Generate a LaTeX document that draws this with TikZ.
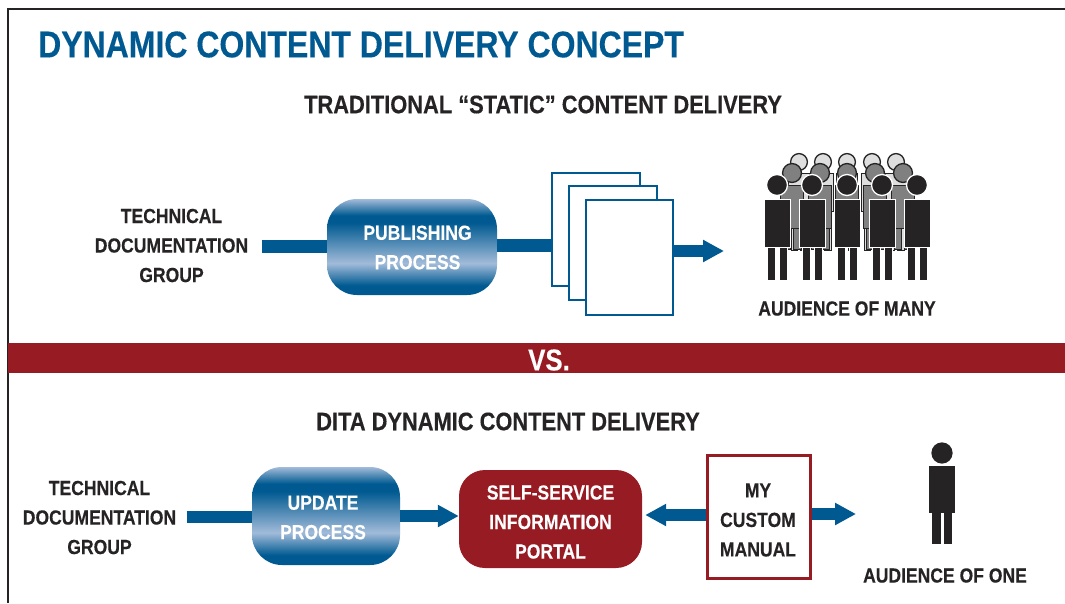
\documentclass[tikz,border=0pt]{standalone}
\usepackage{fontspec}
\setmainfont{Liberation Sans}[FakeStretch=0.86,BoldFeatures={FakeBold=0.25}]
\usetikzlibrary{arrows.meta,calc}
\definecolor{dblue}{HTML}{005A91}
\definecolor{lblue}{HTML}{A2BBD9}
\definecolor{dred}{HTML}{971B22}
\definecolor{ink}{HTML}{262324}
\pgfdeclareverticalshading{pill}{100bp}{color(0bp)=(dblue); color(30bp)=(dblue); color(41.5bp)=(lblue); color(62.5bp)=(dblue); color(66.5bp)=(dblue); color(75bp)=(lblue); color(100bp)=(lblue)}
\tikzset{
  x=1pt,y=-1pt,
  lab/.style={font=\bfseries\fontsize{20.4}{29.5}\selectfont,text=ink,align=center,inner sep=0pt},
  head/.style={font=\bfseries\fontsize{25.4}{29}\selectfont,text=ink,inner sep=0pt},
  gradbox/.style={shading=pill,rounded corners=30pt,minimum width=#1,inner sep=0pt},
  gradtext/.style={inner sep=0pt,text=white,align=center,font=\bfseries\fontsize{20.4}{29.5}\selectfont},
  sheet/.style={draw=dblue,line width=2.6pt,fill=white,inner sep=0pt},
  flow/.style={draw=dblue,line width=12pt},
  flowtip/.style={flow,-{Triangle[length=21pt,width=21pt]}},
}
% x, y of head centre, scale, fill, outline, end of the legs
\newcommand{\personfig}[6]{%
  \begin{scope}[shift={(#1,#2)},scale=#3]
    \draw[draw=#5,line width=0.8pt,fill=#4] (-10,60) rectangle (-2,#6);
    \draw[draw=#5,line width=0.8pt,fill=#4] (2,60) rectangle (10,#6);
    \draw[draw=#5,line width=0.8pt,fill=#4] (-13,14) rectangle (13,62);
    \draw[draw=#5,line width=1.3pt,fill=#4] (0,0) circle (10.5);
  \end{scope}}
\begin{document}
\begin{tikzpicture}
\useasboundingbox (0,0) rectangle (1065,603);
\fill[white] (0,0) rectangle (1065,603);
\draw[draw=ink,line width=1.6pt] (1065,9) -- (8,9) -- (8,603);
\fill[dred] (8,343) rectangle (1065,373);

\node[anchor=west,inner sep=0pt,text=dblue,font=\bfseries\fontsize{37.2}{40}\selectfont] (title) at (38,44.5) {DYNAMIC CONTENT DELIVERY CONCEPT};
\node[head] (h1) at (543,104.5) {TRADITIONAL “STATIC” CONTENT DELIVERY};
\node[text=white,inner sep=0pt,font=\bfseries\fontsize{30}{32}\selectfont] (vs) at (549,360) {VS.};
\node[head] (h2) at (508,421.5) {DITA DYNAMIC CONTENT DELIVERY};

% top row
\node[lab,minimum width=180pt] (tdg1) at (171.5,245.5) {TECHNICAL\\DOCUMENTATION\\GROUP};
\node[gradbox=170pt,minimum height=96pt] (pub) at (412,247) {};
\node[gradtext] (pubt) at (417.5,247.5) {PUBLISHING\\PROCESS};
\node[sheet,minimum width=88pt,minimum height=113pt] (d1) at (596,229.5) {};
\node[sheet,minimum width=88pt,minimum height=114pt] (d2) at (613,243) {};
\node[sheet,minimum width=87pt,minimum height=115pt] (d3) at (629.5,257.5) {};
\coordinate (t3) at (724,251);
\draw[flow,line width=13pt] (tdg1.east |- 0,246) -- (pub.west |- 0,246);
\draw[flow,line width=13pt] (pub.east |- 0,245) -- (d1.west |- 0,245);
\draw[flowtip] (d3.east |- t3) -- (t3);

% audience of many
\foreach \x in {799,823,847,872,896}
  \personfig{\x}{162}{0.8}{black!13}{ink}{110};
\foreach \x in {792,820,847,875,903}
  \personfig{\x}{173}{0.9}{black!50}{ink}{85};
\foreach \x in {777,812,847,882,917}
  \personfig{\x}{185}{1}{ink}{white}{95};
\node[lab] (many) at (847,308.5) {AUDIENCE OF MANY};

% bottom row
\node[lab,minimum width=174pt] (tdg2) at (99.5,517.5) {TECHNICAL\\DOCUMENTATION\\GROUP};
\node[gradbox=148pt,minimum height=98pt] (upd) at (326,516) {};
\node[gradtext] (updt) at (323,517.5) {UPDATE\\PROCESS};
\node[fill=dred,rounded corners=26pt,minimum width=183pt,minimum height=98pt,inner sep=0pt] (portal) at (550.5,519) {};
\node[gradtext] (portalt) at (550.5,522) {SELF-SERVICE\\INFORMATION\\PORTAL};
\node[draw=dred,line width=3pt,fill=white,minimum width=103pt,minimum height=123pt,inner sep=0pt] (man) at (759,517) {};
\node[lab] (mant) at (758,520) {MY\\CUSTOM\\MANUAL};
\coordinate (t4) at (856,514);
\draw[flow] (tdg2.east |- 0,517) -- (upd.west |- 0,517);
\draw[flowtip] (upd.east |- 0,516) -- (portal.west |- 0,516);
\draw[flowtip] (man.west |- 0,515) -- ([xshift=3pt]portal.east |- 0,515);
\draw[flowtip] (man.east |- t4) -- (t4);

\personfig{942}{453}{0.95}{ink}{ink}{95}
\node[lab] (one) at (945,575.5) {AUDIENCE OF ONE};
\end{tikzpicture}
\end{document}
